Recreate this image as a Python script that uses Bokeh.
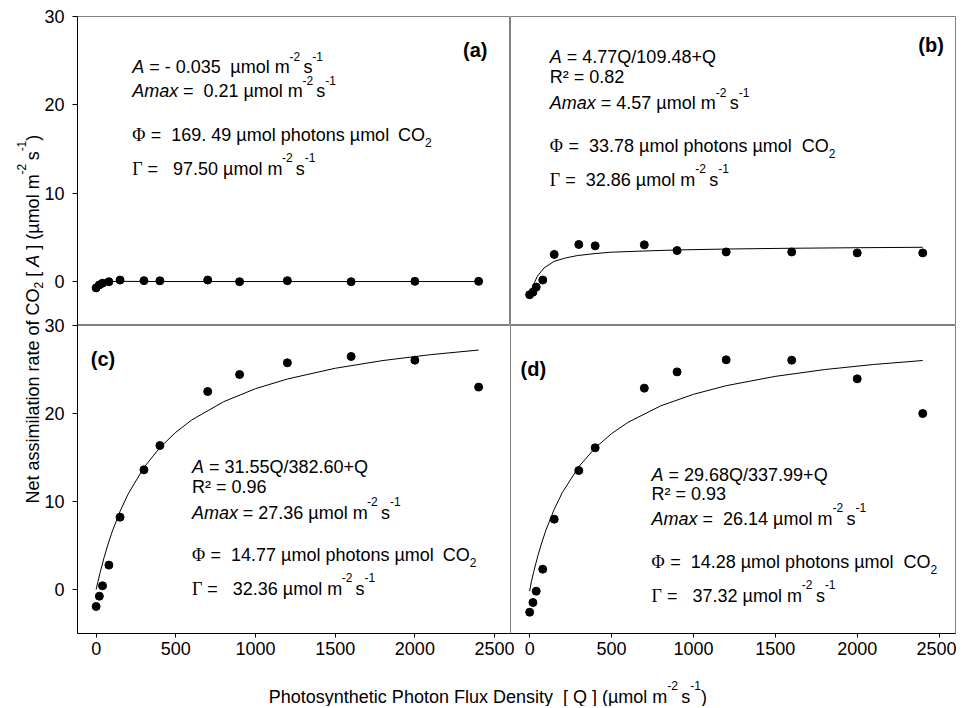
import re
import math
from bokeh.plotting import figure
from bokeh.models import Range1d, FixedTicker, Label
from bokeh.layouts import row, column
from bokeh.embed import file_html
from bokeh.resources import INLINE

# ---------------- data ----------------
Q = [0, 20, 40, 80, 150, 300, 400, 700, 900, 1200, 1600, 2000, 2400]
A_a = [-0.74, -0.40, -0.21, -0.04, 0.15, 0.08, 0.06, 0.15, -0.04, 0.08, -0.04, 0.0, 0.0]
A_b = [-1.51, -1.22, -0.65, 0.15, 3.05, 4.18, 4.02, 4.14, 3.49, 3.33, 3.33, 3.22, 3.22]
A_c = [-1.93, -0.76, 0.42, 2.77, 8.22, 13.60, 16.36, 22.50, 24.43, 25.76, 26.48, 26.06, 23.00]
A_d = [-2.58, -1.48, -0.19, 2.31, 7.99, 13.52, 16.10, 22.88, 24.73, 26.10, 26.06, 23.94, 20.00]

# fitted curves
fit_a_Q = [0, 20, 40, 80, 150, 400, 2400]
fit_a_A = [-0.72, -0.44, -0.22, -0.04, 0.0, -0.02, -0.02]
fit_b_Q = [16, 30, 47, 87, 149, 220, 291, 400, 495, 699, 903, 1229, 1600, 2000, 2400]
fit_b_A = [-0.83, -0.10, 0.57, 1.51, 2.27, 2.65, 2.92, 3.15, 3.30, 3.44, 3.56, 3.67, 3.75, 3.81, 3.86]
fit_cd_Q = [0, 10, 25, 50, 75, 100, 150, 200, 300, 400, 500, 600, 800, 1000, 1200, 1500, 1800, 2100, 2400]
fit_c_A = [0.0, 0.80, 1.94, 3.65, 5.17, 6.54, 8.89, 10.83, 13.87, 16.13, 17.87, 19.27, 21.34, 22.82,
           23.92, 25.14, 26.02, 26.69, 27.21]
fit_d_A = [-0.2, 0.85, 2.04, 3.83, 5.39, 6.78, 9.12, 11.03, 13.96, 16.09, 17.71, 18.99, 20.87, 22.18,
           23.16, 24.22, 24.99, 25.57, 26.02]

X_TICKS = [0, 500, 1000, 1500, 2000, 2500]
Y_TICKS = [0, 10, 20, 30]
X_RANGE = (-117, 2600)
Y_RANGE = (-5, 30)

# ---------------- fonts / rich text helper ----------------
SANS = "Liberation Sans"
SERIF = "Liberation Serif"
W = {' ': 278, '(': 333, ')': 333, '+': 584, '-': 333, '.': 278, '/': 278, '=': 584, '[': 278, ']': 278,
     'A': 667, 'C': 722, 'D': 722, 'F': 611, 'N': 722, 'O': 778, 'P': 667, 'Q': 778, 'R': 722,
     'a': 556, 'b': 556, 'c': 500, 'd': 556, 'e': 556, 'f': 278, 'h': 556, 'i': 222, 'l': 222,
     'm': 833, 'n': 556, 'o': 556, 'p': 556, 'r': 333, 's': 500, 't': 278, 'u': 556, 'x': 500,
     'y': 500, '\u00b5': 576, '\u00b2': 333}
for _d in '0123456789':
    W[_d] = 556
WB = dict(W)
WB.update({'b': 611, 'd': 611, 'c': 556})
WG = {'\u03a6': 760, '\u0393': 580, ' ': 250}

STY = {
    'n': dict(font=SANS, size=18, style='normal', dy=0, table=W),
    'i': dict(font=SANS, size=18, style='italic', dy=0, table=W),
    'b': dict(font=SANS, size=20, style='bold', dy=0, table=WB),
    'g': dict(font=SERIF, size=18, style='normal', dy=0, table=WG),
    'sup': dict(font=SANS, size=12, style='normal', dy=-11, table=W),
    'sub': dict(font=SANS, size=12, style='normal', dy=8, table=W),
    'vsub': dict(font=SANS, size=12, style='normal', dy=6, table=W),
}


def tw(s, st):
    return sum(st['table'].get(ch, 556) for ch in s) * st['size'] / 1000.0


def rich(fig, to_data, x0, y0, segs, vertical=False, align='left'):
    pos = 0.0
    items = []
    for sname, txt in segs:
        st = STY[sname]
        for m in re.finditer(r'\S+(?: \S+)*', txt):
            items.append((pos + tw(txt[:m.start()], st), m.group(), st))
        pos += tw(txt, st)
    shift = -pos if align == 'right' else 0.0
    for off, piece, st in items:
        off += shift
        if vertical:
            px, py, ang = x0 + st['dy'], y0 - off, math.pi / 2
        else:
            px, py, ang = x0 + off, y0 + st['dy'], 0.0
        dx, dy = to_data(px, py)
        fig.add_layout(Label(x=dx, y=dy, text=piece, text_font=st['font'],
                             text_font_size="%gpx" % st['size'], text_font_style=st['style'],
                             text_color='black', text_align='left', text_baseline='alphabetic',
                             angle=ang))


def mapper(L, T, Wd, H, xr, yr):
    def f(px, py):
        return (xr[0] + (px - L) / Wd * (xr[1] - xr[0]),
                yr[1] - (py - T) / H * (yr[1] - yr[0]))
    return f


def style_axis(ax, ticks, out, standoff):
    ax.ticker = FixedTicker(ticks=ticks)
    ax.major_tick_out = out
    ax.major_tick_in = 0
    ax.minor_tick_line_color = None
    ax.axis_line_color = 'black'
    ax.major_tick_line_color = 'black'
    ax.major_label_text_font = SANS
    ax.major_label_text_font_size = '18px'
    ax.major_label_text_color = 'black'
    ax.major_label_standoff = standoff


def panel(width, height, mb, xloc, yloc, margin=None):
    kw = {}
    if margin is not None:
        kw['margin'] = margin
    p = figure(width=width, height=height, output_backend="svg", toolbar_location=None,
               x_range=Range1d(*X_RANGE), y_range=Range1d(*Y_RANGE),
               min_border_left=mb[0], min_border_right=mb[1], min_border_top=mb[2],
               min_border_bottom=mb[3], x_axis_location=xloc, y_axis_location=yloc, **kw)
    p.grid.visible = False
    p.background_fill_alpha = 0
    p.border_fill_alpha = 0
    p.outline_line_color = '#808080'
    p.outline_line_width = 1
    if xloc is not None:
        style_axis(p.xaxis[0], X_TICKS, 4, 4)
    if yloc is not None:
        style_axis(p.yaxis[0], Y_TICKS, 5, 8)
    return p


# page layout (page pixels): left strip 0..46, panels column starts at 41 (overlaps by 5)
fa = panel(469, 325, (34, 0, 16, 0), None, 'left')
fb = panel(446, 325, (0, 1, 16, 0), None, None)
fc = panel(477, 348, (34, 8, 10, 30), 'below', 'left')
fd = panel(456, 348, (10, 1, 10, 30), 'below', None, margin=(0, 0, 0, -18))

maps = {
    'a': mapper(75, 16, 435, 309, X_RANGE, Y_RANGE),
    'b': mapper(510, 16, 445, 309, X_RANGE, Y_RANGE),
    'c': mapper(75, 325, 435, 308, X_RANGE, Y_RANGE),
    'd': mapper(510, 325, 445, 308, X_RANGE, Y_RANGE),
}

for fig, A, fq, fa_ in [(fa, A_a, fit_a_Q, fit_a_A), (fb, A_b, fit_b_Q, fit_b_A),
                        (fc, A_c, fit_cd_Q, fit_c_A), (fd, A_d, fit_cd_Q, fit_d_A)]:
    fig.line(fq, fa_, line_color='black', line_width=1)
    fig.scatter(Q, A, size=8, marker='circle', fill_color='black', line_color='black')

PHI = '\u03a6'
GAM = '\u0393'
MU = '\u00b5'
UNIT = [('sup', '-2 '), ('n', 's'), ('sup', '-1')]

texts = {
    'a': [
        (130, 66.7, [('i', 'A'), ('n', ' = - 0.035  %smol m' % MU)] + UNIT),
        (130, 90.7, [('i', 'Amax'), ('n', ' =  0.21 %smol m' % MU)] + UNIT),
        (130, 134.0, [('g', PHI), ('n', ' =  169. 49 %smol photons %smol  CO' % (MU, MU)), ('sub', '2')]),
        (130, 168.3, [('g', GAM), ('n', ' =   97.50 %smol m' % MU)] + UNIT),
    ],
    'b': [
        (549.3, 56.7, [('i', 'A'), ('n', ' = 4.77Q/109.48+Q')]),
        (549.3, 76.7, [('n', 'R\u00b2 = 0.82')]),
        (549.3, 102.7, [('i', 'Amax'), ('n', ' = 4.57 %smol m' % MU)] + UNIT),
        (549.3, 145.3, [('g', PHI), ('n', ' =  33.78 %smol photons %smol  CO' % (MU, MU)), ('sub', '2')]),
        (549.3, 179.0, [('g', GAM), ('n', ' =  32.86 %smol m' % MU)] + UNIT),
    ],
    'c': [
        (190, 466.7, [('i', 'A'), ('n', ' = 31.55Q/382.60+Q')]),
        (190, 486.7, [('n', 'R\u00b2 = 0.96')]),
        (190, 512.3, [('i', 'Amax'), ('n', ' = 27.36 %smol m' % MU)] + UNIT),
        (190, 554.3, [('g', PHI), ('n', ' =  14.77 %smol photons %smol  CO' % (MU, MU)), ('sub', '2')]),
        (190, 588.3, [('g', GAM), ('n', ' =   32.36 %smol m' % MU)] + UNIT),
    ],
    'd': [
        (651, 474.0, [('i', 'A'), ('n', ' = 29.68Q/337.99+Q')]),
        (651, 493.3, [('n', 'R\u00b2 = 0.93')]),
        (651, 518.3, [('i', 'Amax'), ('n', ' =  26.14 %smol m' % MU)] + UNIT),
        (651, 561.0, [('g', PHI), ('n', ' =  14.28 %smol photons %smol  CO' % (MU, MU)), ('sub', '2')]),
        (651, 595.0, [('g', GAM), ('n', ' =   37.32 %smol m' % MU)] + UNIT),
    ],
}
tags = {'a': (486.7, 49.0, '(a)', 'right'), 'b': (943.3, 44.5, '(b)', 'right'),
        'c': (88.3, 358.0, '(c)', 'left'), 'd': (520.0, 368.0, '(d)', 'left')}

figs = {'a': fa, 'b': fb, 'c': fc, 'd': fd}
for k, fig in figs.items():
    for x0, y0, segs in texts[k]:
        rich(fig, maps[k], x0, y0, segs)
    tx, ty, tt, al = tags[k]
    rich(fig, maps[k], tx, ty, [('b', tt)], align=al)

# axis titles in strip figures (data units = page pixels)
fy = figure(width=46, height=706, output_backend="svg", toolbar_location=None,
            x_range=Range1d(0, 46), y_range=Range1d(706, 0), min_border_left=0, min_border_right=0,
            min_border_top=0, min_border_bottom=0, x_axis_location=None, y_axis_location=None)
fx = figure(width=915, height=43, output_backend="svg", toolbar_location=None,
            x_range=Range1d(41, 956), y_range=Range1d(706, 663), min_border_left=0, min_border_right=0,
            min_border_top=0, min_border_bottom=0, x_axis_location=None, y_axis_location=None)
for f in (fy, fx):
    f.grid.visible = False
    f.outline_line_color = None
    f.background_fill_alpha = 0
    f.border_fill_alpha = 0

ident = lambda px, py: (px, py)
rich(fy, ident, 32.0, 503.0,
     [('n', 'Net assimilation rate of CO'), ('vsub', '2'), ('n', ' [ '), ('i', 'A'),
      ('n', ' ] (%smol m' % MU)] + UNIT + [('n', ')')], vertical=True)
rich(fx, ident, 268.3, 696.0,
     [('n', 'Photosynthetic Photon Flux Density  [ Q ] (%smol m' % MU)] + UNIT + [('n', ')')])

panels = column(row(fa, fb), row(fc, fd, margin=(-10, 0, 0, 0)), fx, margin=(0, 0, 0, -5))
layout = row(fy, panels)

open("out.html", "w").write(file_html(layout, INLINE))
